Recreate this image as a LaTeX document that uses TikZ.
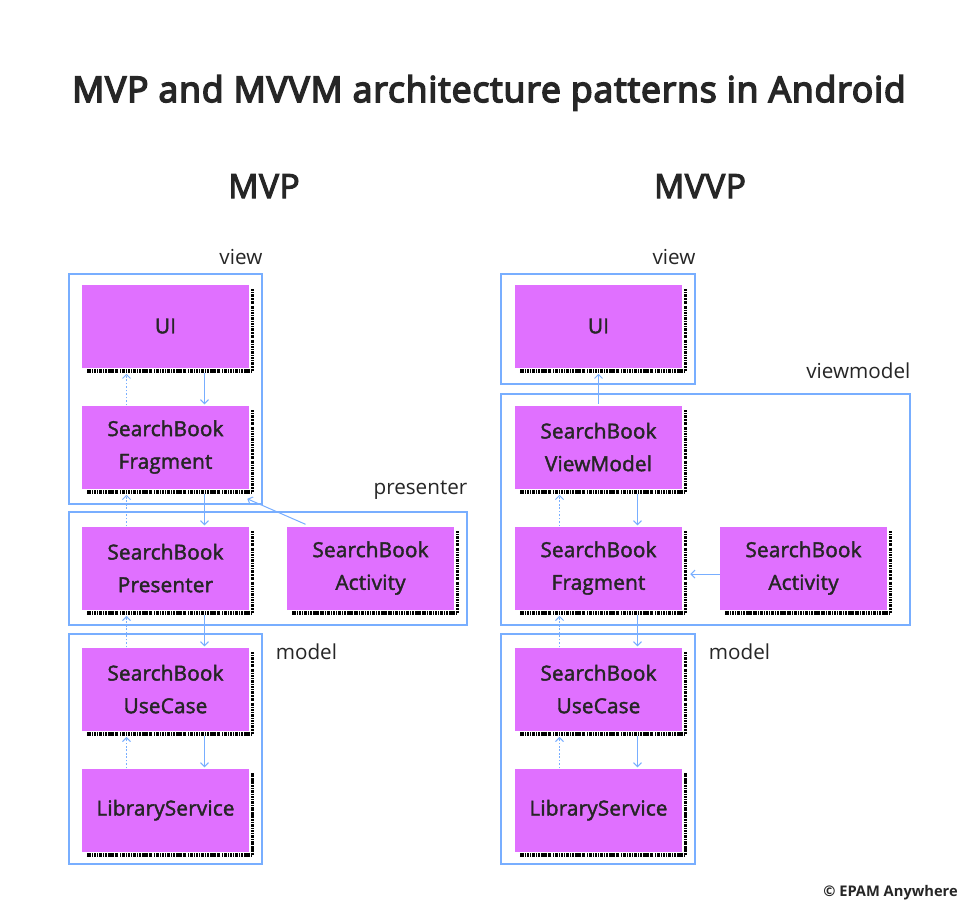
\documentclass[tikz,border=0pt]{standalone}
\usepackage{fontspec}
\setmainfont{Open Sans}
\newfontfamily\headfont[FakeBold=4.5,LetterSpace=2.5]{Open Sans}
\newfontfamily\subfont[FakeBold=3.5,LetterSpace=2]{Open Sans}
\newfontfamily\boxfont[FakeBold=2,LetterSpace=1]{Open Sans}
\usepackage{xcolor}
\usepackage{tikz}
\usetikzlibrary{arrows.meta,positioning,fit,calc}

\definecolor{boxfill}{HTML}{E070FF}
\definecolor{linkblue}{HTML}{78AEFF}
\definecolor{ink}{HTML}{262626}

\begin{document}
\begin{tikzpicture}[
  x=0.75pt,y=-0.75pt,
  text=ink,
  comp/.style={fill=boxfill,inner sep=0pt,align=center,minimum width=125.25pt,minimum height=62.25pt,font=\boxfont\fontsize{15.5}{24.5}\selectfont},
  group/.style={draw=linkblue,line width=0.9pt,inner sep=0pt},
  tag/.style={inner sep=0pt,font=\fontsize{15.5}{18}\selectfont},
  grain/.style={black,line width=2.6pt,dash pattern=on 1.6pt off 0.5pt on 0.7pt off 0.9pt on 2.4pt off 0.6pt on 1pt off 0.8pt},
  flow/.style={draw=linkblue,line width=0.75pt,-{Straight Barb[length=3pt,width=6pt]}},
  back/.style={flow,dash pattern=on 1.2pt off 1.4pt},
  node distance=28.125pt and 28.125pt
]
\useasboundingbox[fill=white] (0,0) rectangle (980,921);

% titles
\node[anchor=base,inner sep=0pt,font=\headfont\fontsize{26.6}{34}\selectfont] (title) at (489,102) {MVP and MVVM architecture patterns in Android};
\node[anchor=base,inner sep=0pt,font=\subfont\fontsize{25}{30}\selectfont] (mvphead) at (264,198) {MVP};
\node[anchor=base,inner sep=0pt,font=\subfont\fontsize{25}{30}\selectfont] (mvvphead) at (700,198) {MVVP};

% MVP column
\node[comp] (ui) at (165.5,326) {UI};
\node[comp,below=of ui] (frag) {SearchBook\\Fragment};
\node[comp,below=of frag] (pres) {SearchBook\\Presenter};
\node[comp,right=of pres] (act) {SearchBook\\Activity};
\node[comp,below=of pres] (usecase) {SearchBook\\UseCase};
\node[comp,below=of usecase] (libsvc) {LibraryService};

% MVVP column
\node[comp] (vui) at (598.5,326) {UI};
\node[comp,below=of vui] (vmodel) {SearchBook\\ViewModel};
\node[comp,below=of vmodel] (vfrag) {SearchBook\\Fragment};
\node[comp,right=of vfrag] (vact) {SearchBook\\Activity};
\node[comp,below=of vfrag] (vusecase) {SearchBook\\UseCase};
\node[comp,below=of vusecase] (vlibsvc) {LibraryService};

% grainy shadows
\foreach \n in {ui,frag,pres,act,usecase,libsvc,vui,vmodel,vfrag,vact,vusecase,vlibsvc}
  \draw[grain] ($(\n.north east)+(3,5)$) -- ($(\n.south east)+(3,3)$) -- ($(\n.south west)+(5,3)$);

% layer frames
\node[group,fit={(69,274) (262,504)}] (mvpview) {};
\node[group,fit={(69,512) (467,625)}] (mvppres) {};
\node[group,fit={(69,634) (262,864)}] (mvpmodel) {};
\node[group,fit={(501,274) (695,384)}] (mvvpview) {};
\node[group,fit={(501,394) (910,625)}] (mvvpvm) {};
\node[group,fit={(501,634) (695,864)}] (mvvpmodel) {};

\node[tag,anchor=base east] (viewlbl) at ($(mvpview.north east)+(0,-9)$) {view};
\node[tag,anchor=base east] (preslbl) at ($(mvppres.north east)+(0,-17)$) {presenter};
\node[tag,anchor=base west] (modellbl) at ($(mvpmodel.north east)+(13,26)$) {model};
\node[tag,anchor=base east] (vviewlbl) at ($(mvvpview.north east)+(0,-9)$) {view};
\node[tag,anchor=base east] (vmlbl) at ($(mvvpvm.north east)+(0,-15)$) {viewmodel};
\node[tag,anchor=base west] (vmodellbl) at ($(mvvpmodel.north east)+(13,26)$) {model};

% MVP links
\draw[flow] ($(ui.south)+(39,5)$) -- ($(frag.north)+(39,-1)$);
\draw[back] ($(frag.north)+(-39,0)$) -- ($(ui.south)+(-39,6)$);
\draw[flow] ($(frag.south)+(39,5)$) -- ($(pres.north)+(39,-1)$);
\draw[back] ($(pres.north)+(-39,0)$) -- ($(frag.south)+(-39,6)$);
\draw[flow] ($(act.north)+(-65,-2)$) -- ($(frag.south east)+(-2,10)$);
\draw[flow] ($(pres.south)+(39,5)$) -- ($(usecase.north)+(39,-1)$);
\draw[back] ($(usecase.north)+(-39,0)$) -- ($(pres.south)+(-39,6)$);
\draw[flow] ($(usecase.south)+(39,5)$) -- ($(libsvc.north)+(39,-1)$);
\draw[back] ($(libsvc.north)+(-39,0)$) -- ($(usecase.south)+(-39,6)$);

% MVVP links
\draw[flow,{Straight Barb[length=3pt,width=6pt]}-] ($(vui.south)+(0,6)$) -- ($(vmodel.north)+(0,-1)$);
\draw[flow] ($(vmodel.south)+(39,5)$) -- ($(vfrag.north)+(39,-1)$);
\draw[back] ($(vfrag.north)+(-39,0)$) -- ($(vmodel.south)+(-39,6)$);
\draw[flow] ($(vact.west)+(0,6)$) -- ($(vfrag.east)+(8,6)$);
\draw[flow] ($(vfrag.south)+(39,5)$) -- ($(vusecase.north)+(39,-1)$);
\draw[back] ($(vusecase.north)+(-39,0)$) -- ($(vfrag.south)+(-39,6)$);
\draw[flow] ($(vusecase.south)+(39,5)$) -- ($(vlibsvc.north)+(39,-1)$);
\draw[back] ($(vlibsvc.north)+(-39,0)$) -- ($(vusecase.south)+(-39,6)$);

\node[anchor=base east,inner sep=0pt,font=\fontsize{11}{13}\selectfont\bfseries] (credit) at (958,896) {© EPAM Anywhere};
\end{tikzpicture}
\end{document}
